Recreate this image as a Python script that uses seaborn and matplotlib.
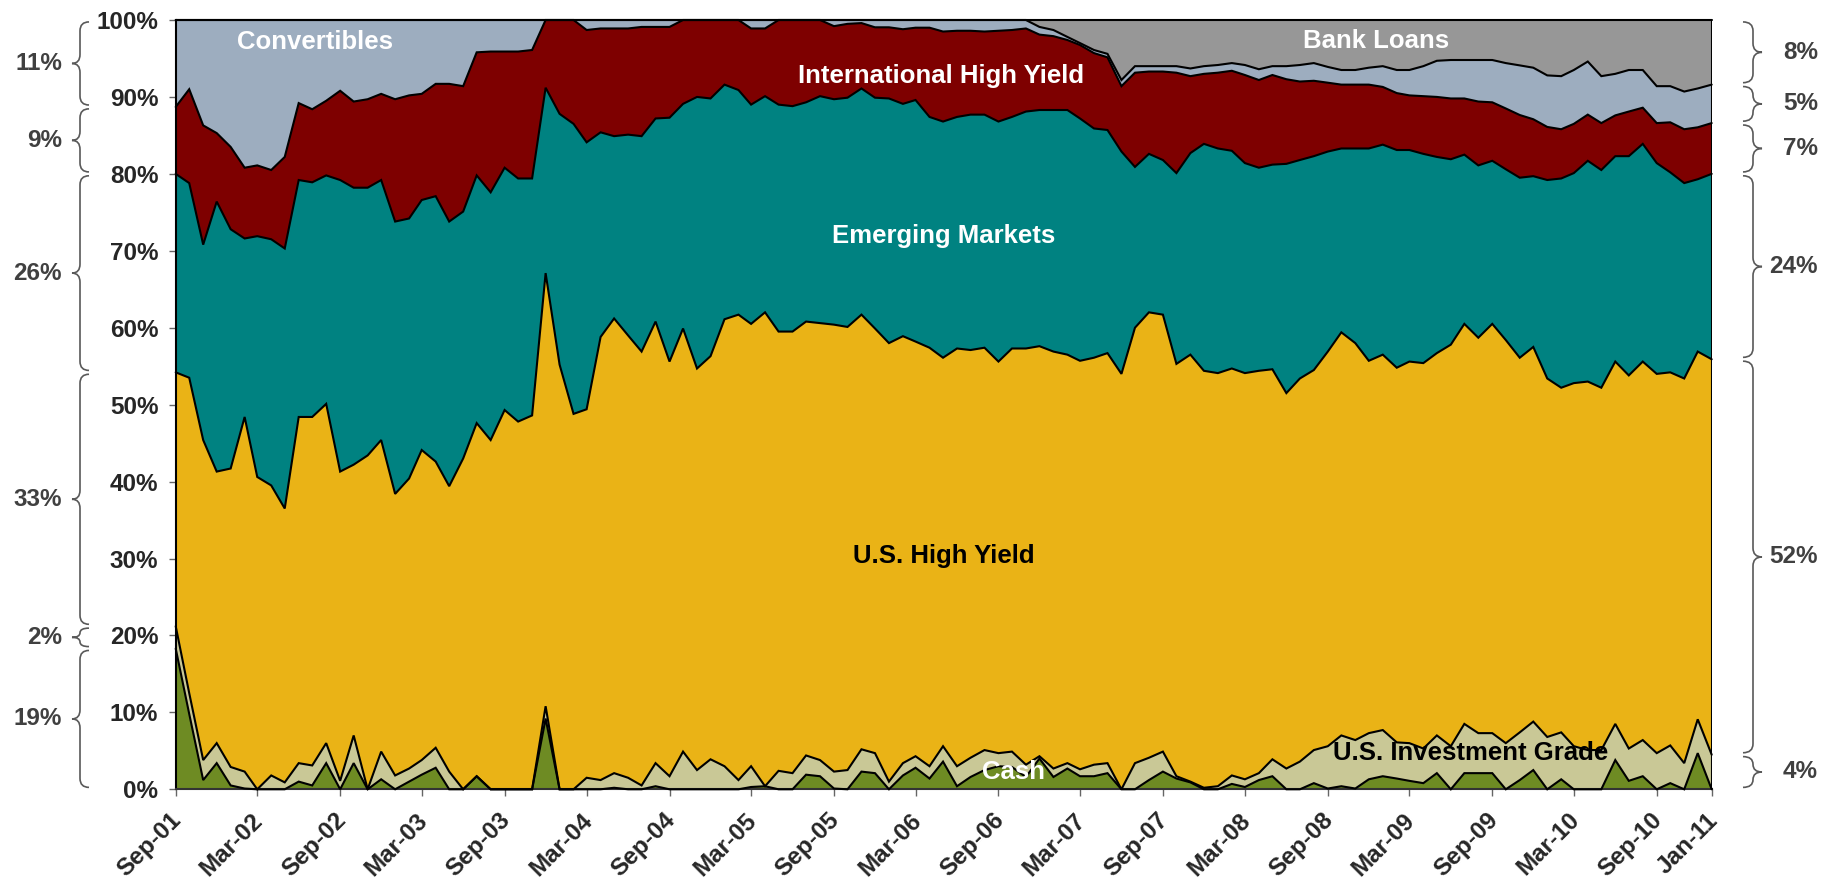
import numpy as np
import pandas as pd
import matplotlib
matplotlib.use("Agg")
import matplotlib.pyplot as plt
from matplotlib.path import Path
from matplotlib.patches import PathPatch
from matplotlib.transforms import blended_transform_factory, ScaledTranslation
import seaborn as sns

# ---------------- data (cumulative upper edge of each stacked band, %) ----------------
months = pd.date_range("2001-09-01", "2011-01-01", freq="MS")

categories = ["Cash", "U.S. Investment Grade", "U.S. High Yield", "Emerging Markets",
              "International High Yield", "Convertibles", "Bank Loans"]

cash_top = [18.3, 9.8, 1.2, 3.4, 0.5, 0.1, 0, 0, 0, 1.0,
            0.5, 3.4, 0, 3.4, 0, 1.3, 0, 1.0, 1.9, 2.8,
            0, 0, 1.7, 0, 0, 0, 0, 9.2, 0, 0,
            0, 0, 0.2, 0, 0, 0.4, 0, 0, 0, 0,
            0, 0, 0.3, 0.4, 0, 0, 1.9, 1.7, 0.1, 0,
            2.3, 2.1, 0, 1.8, 2.8, 1.4, 3.6, 0.4, 1.6, 2.5,
            3.0, 2.9, 1.6, 4.0, 1.6, 2.7, 1.7, 1.7, 2.1, 0,
            0, 1.2, 2.3, 1.4, 0.9, 0, 0, 0.7, 0.3, 1.2,
            1.7, 0, 0, 0.8, 0.1, 0.4, 0.1, 1.3, 1.7, 1.4,
            1.1, 0.8, 2.1, 0, 2.1, 2.1, 2.1, 0, 1.2, 2.5,
            0, 1.3, 0, 0, 0, 3.8, 1.1, 1.7, 0, 0.8,
            0, 4.7, 0]

ig_top = [21.2, 12.5, 3.8, 6.0, 2.9, 2.3, 0, 1.8, 0.9, 3.4,
          3.1, 6.0, 1.1, 7.0, 0, 4.9, 1.8, 2.7, 3.8, 5.4,
          2.3, 0, 1.7, 0, 0, 0, 0, 10.8, 0, 0,
          1.5, 1.2, 2.1, 1.5, 0.5, 3.4, 1.7, 4.9, 2.5, 3.9,
          3.0, 1.2, 3.0, 0.4, 2.4, 2.1, 4.4, 3.8, 2.3, 2.5,
          5.2, 4.7, 1.0, 3.4, 4.3, 3.0, 5.6, 3.0, 4.1, 5.1,
          4.7, 4.9, 3.2, 4.3, 2.7, 3.4, 2.6, 3.2, 3.4, 0,
          3.4, 4.1, 4.9, 1.7, 1.0, 0.2, 0.4, 1.8, 1.3, 2.1,
          3.9, 2.7, 3.6, 5.1, 5.6, 7.0, 6.4, 7.3, 7.7, 6.1,
          6.0, 5.3, 7.0, 5.6, 8.5, 7.3, 7.3, 6.0, 7.4, 8.8,
          6.8, 7.4, 5.6, 5.1, 5.1, 8.5, 5.3, 6.4, 4.7, 5.7,
          3.4, 9.1, 4.5]

hy_top = [54.2, 53.5, 45.4, 41.3, 41.7, 48.4, 40.6, 39.5, 36.5, 48.4,
          48.4, 50.1, 41.3, 42.2, 43.4, 45.4, 38.4, 40.4, 44.1, 42.6,
          39.4, 43.0, 47.6, 45.4, 49.3, 47.8, 48.6, 67.1, 55.2, 48.8,
          49.4, 58.8, 61.2, 59.0, 56.9, 60.8, 55.6, 59.9, 54.7, 56.3,
          61.1, 61.7, 60.5, 62.0, 59.5, 59.5, 60.8, 60.6, 60.4, 60.1,
          61.7, 59.9, 58.0, 58.9, 58.2, 57.4, 56.1, 57.3, 57.1, 57.4,
          55.6, 57.3, 57.3, 57.6, 56.9, 56.5, 55.7, 56.1, 56.7, 54.0,
          60.0, 62.0, 61.7, 55.3, 56.5, 54.4, 54.1, 54.7, 54.1, 54.4,
          54.6, 51.5, 53.4, 54.5, 56.9, 59.4, 58.0, 55.7, 56.5, 54.8,
          55.6, 55.4, 56.7, 57.8, 60.5, 58.7, 60.5, 58.4, 56.1, 57.5,
          53.4, 52.2, 52.8, 53.0, 52.2, 55.6, 53.8, 55.6, 54.0, 54.2,
          53.4, 56.9, 55.9]

em_top = [80.0, 78.8, 70.8, 76.4, 72.8, 71.6, 71.9, 71.5, 70.3, 79.2,
          78.9, 79.8, 79.2, 78.2, 78.2, 79.2, 73.8, 74.2, 76.6, 77.1,
          73.8, 75.1, 79.8, 77.6, 80.8, 79.4, 79.4, 91.2, 87.8, 86.5,
          84.1, 85.4, 84.9, 85.1, 84.9, 87.2, 87.3, 89.1, 90.0, 89.8,
          91.6, 90.9, 89.0, 90.1, 89.0, 88.8, 89.3, 90.1, 89.7, 89.9,
          91.1, 89.9, 89.8, 89.1, 89.6, 87.4, 86.8, 87.4, 87.7, 87.7,
          86.8, 87.4, 88.1, 88.3, 88.3, 88.3, 87.2, 85.9, 85.7, 82.9,
          80.9, 82.6, 81.8, 80.1, 82.7, 83.9, 83.3, 83.0, 81.4, 80.8,
          81.2, 81.3, 81.8, 82.3, 82.9, 83.3, 83.3, 83.3, 83.8, 83.1,
          83.1, 82.6, 82.2, 81.9, 82.5, 81.1, 81.7, 80.6, 79.5, 79.7,
          79.2, 79.4, 80.1, 81.7, 80.5, 82.3, 82.3, 83.9, 81.4, 80.2,
          78.8, 79.3, 80.0]

ihy_top = [88.7, 91.0, 86.3, 85.3, 83.5, 80.8, 81.1, 80.5, 82.2, 89.2,
           88.4, 89.5, 90.8, 89.4, 89.7, 90.4, 89.7, 90.2, 90.4, 91.7,
           91.7, 91.4, 95.8, 95.9, 95.9, 95.9, 96.1, 100.0, 100.0, 100.0,
           98.7, 98.9, 98.9, 98.9, 99.1, 99.1, 99.1, 100.0, 100.0, 100.0,
           100.0, 100.0, 98.9, 98.9, 100.0, 100.0, 100.0, 100.0, 99.2, 99.5,
           99.6, 99.05, 99.05, 98.8, 99.0, 99.0, 98.5, 98.6, 98.6, 98.5,
           98.6, 98.7, 98.9, 98.1, 97.9, 97.4, 96.75, 95.7, 95.15, 91.4,
           93.15, 93.3, 93.3, 93.15, 92.7, 93.0, 93.15, 93.4, 92.85, 92.2,
           92.85, 92.3, 92.0, 92.1, 91.85, 91.6, 91.6, 91.6, 91.3, 90.5,
           90.2, 90.1, 90.0, 89.8, 89.8, 89.4, 89.3, 88.5, 87.65, 87.1,
           86.1, 85.8, 86.5, 87.7, 86.6, 87.6, 88.1, 88.6, 86.6, 86.7,
           85.8, 86.05, 86.6]

conv_top = [100, 100, 100, 100, 100, 100, 100, 100, 100, 100,
            100, 100, 100, 100, 100, 100, 100, 100, 100, 100,
            100, 100, 100, 100, 100, 100, 100, 100, 100, 100,
            100, 100, 100, 100, 100, 100, 100, 100, 100, 100,
            100, 100, 100, 100, 100, 100, 100, 100, 100, 100,
            100, 100, 100, 100, 100, 100, 100, 100, 100, 100,
            100, 100, 100, 99.1, 98.7, 97.8, 97.0, 96.1, 95.6, 92.2,
            94.0, 94.0, 94.0, 94.0, 93.7, 94.0, 94.15, 94.4, 94.15, 93.6,
            94.0, 94.0, 94.15, 94.4, 93.9, 93.5, 93.5, 93.8, 94.0, 93.5,
            93.5, 94.0, 94.7, 94.8, 94.8, 94.8, 94.8, 94.4, 94.1, 93.8,
            92.8, 92.7, 93.5, 94.6, 92.7, 93.0, 93.5, 93.5, 91.4, 91.4,
            90.7, 91.1, 91.6]

total_top = 100.0

tick_labels = ["Sep-01", "Mar-02", "Sep-02", "Mar-03", "Sep-03", "Mar-04", "Sep-04",
               "Mar-05", "Sep-05", "Mar-06", "Sep-06", "Mar-07", "Sep-07", "Mar-08",
               "Sep-08", "Mar-09", "Sep-09", "Mar-10", "Sep-10", "Jan-11"]
left_labels = ["19%", "2%", "33%", "26%", "9%", "11%"]     # Sep-01 mix, bottom to top
right_labels = ["4%", "52%", "24%", "7%", "5%", "8%"]      # Jan-11 mix, bottom to top

colors = ["#6E8B23", "#C9C896", "#EAB316", "#008281", "#7E0000", "#9DADBF", "#979797"]

# ---------------- figure ----------------
sns.set_theme(style="white")
plt.rcParams["font.family"] = ["Liberation Sans", "DejaVu Sans"]
plt.rcParams["font.weight"] = "bold"

W, H = 1826, 885
fig = plt.figure(figsize=(W / 100, H / 100), dpi=100)
ax_l, ax_r, ax_t, ax_b = 175.7, 1711.7, 20.0, 789.3
ax = fig.add_axes([ax_l / W, 1 - ax_b / H, (ax_r - ax_l) / W, (ax_b - ax_t) / H])

edges = [np.zeros(len(months)), np.array(cash_top, float), np.array(ig_top, float),
         np.array(hy_top, float), np.array(em_top, float), np.array(ihy_top, float),
         np.array(conv_top, float), np.full(len(months), total_top)]

for k, name in enumerate(categories):
    ax.fill_between(months, edges[k], edges[k + 1], facecolor=colors[k],
                    edgecolor="none", linewidth=0, zorder=1)

edge_names = ["cash", "ig", "hy", "em", "ihy", "conv", "total"]
long = pd.DataFrame({
    "date": np.tile(months, len(edge_names)),
    "edge": np.repeat(edge_names, len(months)),
    "value": np.concatenate(edges[1:]),
})
sns.lineplot(data=long, x="date", y="value", units="edge", estimator=None,
             color="black", linewidth=1.5, sort=False, legend=False, ax=ax, zorder=3)
ax.vlines(months[-1], 0, total_top, color="black", linewidth=1.5, zorder=3)
for ln in ax.lines:
    ln.set_clip_on(False)
    ln.set_solid_joinstyle("miter")

ax.set_xlim(months[0], months[-1])
ax.set_ylim(0, 100)
ax.set_xlabel("")
ax.set_ylabel("")

tick_dates = [pd.Timestamp(pd.to_datetime(t, format="%b-%y")) for t in tick_labels]
ax.set_xticks(tick_dates)
ax.set_xticklabels(tick_labels, rotation=45, ha="right", va="top",
                   rotation_mode="anchor", fontsize=17.5, fontweight="bold")
ax.set_yticks(np.arange(0, 101, 10))
ax.set_yticklabels([f"{v}%" for v in range(0, 101, 10)], fontsize=17.5, fontweight="bold")
ax.tick_params(axis="both", direction="out", length=5, width=1.0, color="#666666",
               bottom=True, left=True)
ax.tick_params(axis="y", pad=7.5)
ax.tick_params(axis="x", pad=6)
offset = ScaledTranslation(-6 / 100, -4 / 100, fig.dpi_scale_trans)
for lab in ax.get_xticklabels():
    lab.set_transform(lab.get_transform() + offset)

for side in ["top", "right"]:
    ax.spines[side].set_visible(False)
ax.spines["left"].set_color("black")
ax.spines["left"].set_linewidth(1.5)
ax.spines["bottom"].set_color("#333333")
ax.spines["bottom"].set_linewidth(1.5)
ax.set_facecolor("white")

# ---------------- band labels ----------------
def mdate(i):
    return months[0] + pd.DateOffset(days=int(round(i * 30.44)))

lab_kw = dict(ha="center", va="center", fontsize=18.5, fontweight="bold", zorder=6)
ax.text(mdate(10.2), 97.1, "Convertibles", color="white", **lab_kw)
ax.text(mdate(55.8), 92.7, "International High Yield", color="white", **lab_kw)
ax.text(mdate(56.0), 71.9, "Emerging Markets", color="white", **lab_kw)
ax.text(mdate(56.0), 30.3, "U.S. High Yield", color="black", **lab_kw)
ax.text(mdate(61.1), 2.2, "Cash", color="white", **lab_kw)
ax.text(mdate(94.4), 4.7, "U.S. Investment Grade", color="black", **lab_kw)
ax.text(mdate(87.5), 97.3, "Bank Loans", color="white", **lab_kw)

# ---------------- braces ----------------
btr = blended_transform_factory(fig.transFigure, ax.transData)
px_per_unit = (ax_b - ax_t) / 100.0

def brace(y0, y1, x_end, x_mid, x_tip, label, label_x, gap=0.25):
    y0, y1 = y0 + gap, y1 - gap
    ym = (y0 + y1) / 2
    r = min(9 / px_per_unit, (y1 - y0) / 4)
    xe, xm, xt = x_end / W, x_mid / W, x_tip / W
    verts = [(xe, y1), (xm, y1), (xm, y1 - r), (xm, ym + r), (xm, ym), (xt, ym),
             (xm, ym), (xm, ym - r), (xm, y0 + r), (xm, y0), (xe, y0)]
    codes = [Path.MOVETO, Path.CURVE3, Path.CURVE3, Path.LINETO, Path.CURVE3, Path.CURVE3,
             Path.CURVE3, Path.CURVE3, Path.LINETO, Path.CURVE3, Path.CURVE3]
    fig.add_artist(PathPatch(Path(verts, codes), transform=btr, facecolor="none",
                             edgecolor="#595959", linewidth=1.2, clip_on=False))
    fig.text(label_x / W, ym, label, transform=btr, ha="right", va="center",
             fontsize=17.5, fontweight="bold", color="#404040")

left_edges = [0, cash_top[0], ig_top[0], hy_top[0], em_top[0], ihy_top[0], total_top]
for k, lab in enumerate(left_labels):
    brace(left_edges[k], left_edges[k + 1], 89, 80, 72, lab, 62)

right_edges = [0, ig_top[-1], hy_top[-1], em_top[-1], ihy_top[-1], conv_top[-1], total_top]
for k, lab in enumerate(right_labels):
    brace(right_edges[k], right_edges[k + 1], 1743, 1753, 1762, lab, 1818)

fig.savefig("out.png", dpi=100, facecolor="white")
